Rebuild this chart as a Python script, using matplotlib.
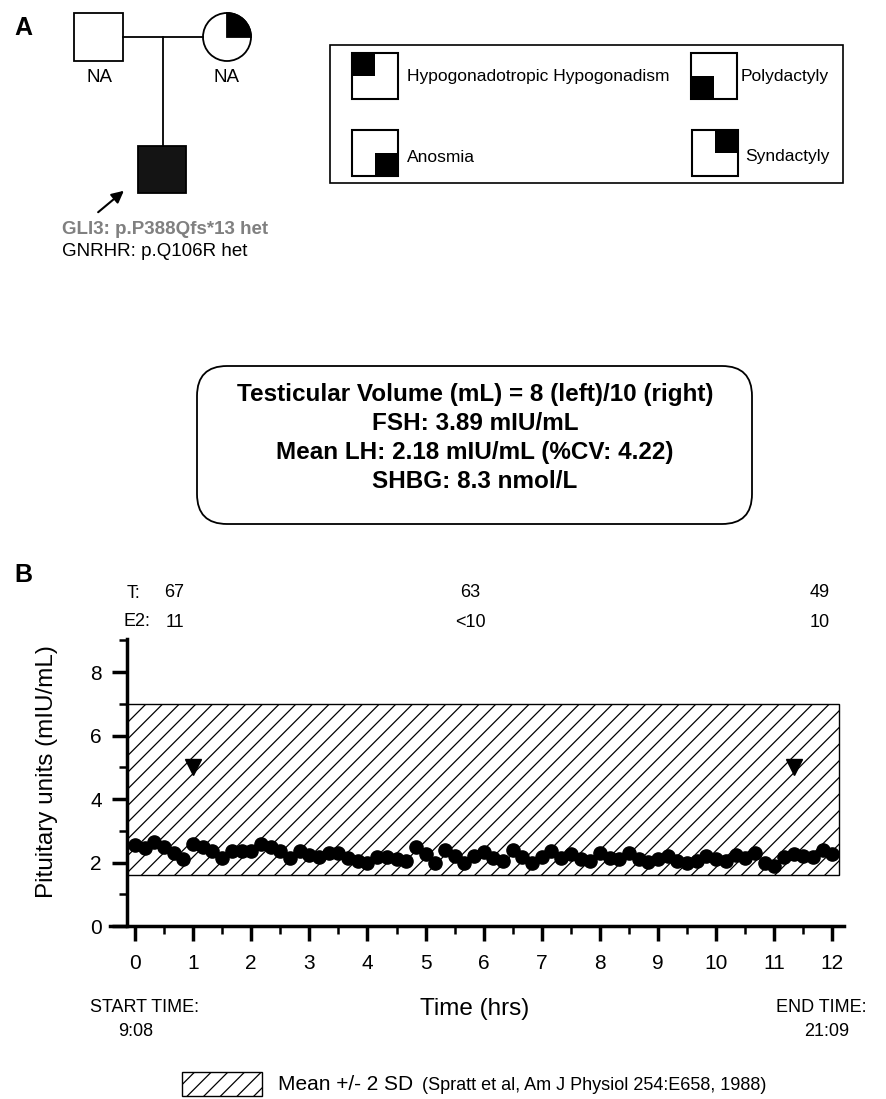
import numpy as np
import matplotlib
matplotlib.use("Agg")
import matplotlib.pyplot as plt
from matplotlib.patches import Rectangle, Circle, Wedge, FancyBboxPatch
from matplotlib.ticker import MultipleLocator

plt.rcParams['font.family'] = ['Liberation Sans', 'DejaVu Sans']
plt.rcParams['hatch.linewidth'] = 0.9

# LH sampled every 10 min over 12 hrs (pituitary units, mIU/mL)
sample_minutes = np.arange(0, 721, 10)
lh_values = [2.55, 2.45, 2.65, 2.50, 2.30, 2.10, 2.58, 2.50, 2.36, 2.14,
             2.36, 2.36, 2.36, 2.58, 2.50, 2.36, 2.14, 2.35, 2.24, 2.17,
             2.30, 2.30, 2.14, 2.05, 1.98, 2.17, 2.17, 2.10, 2.05, 2.50,
             2.27, 1.98, 2.40, 2.20, 1.98, 2.20, 2.33, 2.14, 2.05, 2.40,
             2.17, 1.98, 2.17, 2.36, 2.14, 2.27, 2.10, 2.05, 2.30, 2.14,
             2.10, 2.30, 2.10, 2.02, 2.10, 2.20, 2.05, 1.98, 2.05, 2.20,
             2.10, 2.05, 2.24, 2.14, 2.30, 1.98, 1.89, 2.17, 2.27, 2.20,
             2.17, 2.40, 2.27]

# detected pulses
pulse_hours = [1.0, 11.34]
pulse_level = [5.0, 5.0]

# normal range (mean +/- 2 SD)
band_low, band_high = 1.6, 7.0
band_end = 12.12

# hormone samples shown above the plot
hormone_hours = [0.68, 5.77, 11.79]
t_values = ['67', '63', '49']
e2_values = ['11', '<10', '10']

info_lines = ['Testicular Volume (mL) = 8 (left)/10 (right)',
              'FSH: 3.89 mIU/mL',
              'Mean LH: 2.18 mIU/mL (%CV: 4.22)',
              'SHBG: 8.3 nmol/L']

legend_items = [('Hypogonadotropic Hypogonadism', 'tl'), ('Polydactyly', 'bl'),
                ('Anosmia', 'br'), ('Syndactyly', 'tr')]

W, H = 886, 1099
fig = plt.figure(figsize=(W / 100, H / 100), dpi=100)

# pixel canvas for panel A and free text
cv = fig.add_axes([0, 0, 1, 1])
cv.set_xlim(0, W)
cv.set_ylim(H, 0)
cv.axis('off')

cv.text(23, 28, 'A', fontsize=18, fontweight='bold', ha='center', va='center')
cv.text(23, 575, 'B', fontsize=18, fontweight='bold', ha='center', va='center')

# pedigree
cv.add_patch(Rectangle((74, 13), 49, 48, fc='white', ec='black', lw=1.3))
cv.add_patch(Circle((227, 37), 24, fc='white', ec='black', lw=1.3))
cv.add_patch(Wedge((227, 37), 24, 270, 360, fc='black', ec='black', lw=1.3))
cv.plot([123, 203], [37, 37], color='black', lw=1.3)
cv.plot([163, 163], [37, 146], color='black', lw=1.3)
cv.add_patch(Rectangle((138, 146), 48, 47, fc='#141414', ec='black', lw=1.3))
cv.annotate('', xy=(126, 189), xytext=(96, 214),
            arrowprops=dict(arrowstyle='-|>', color='black', lw=1.5, mutation_scale=18))
cv.text(100, 78, 'NA', fontsize=13.5, ha='center', va='center')
cv.text(227, 78, 'NA', fontsize=13.5, ha='center', va='center')
cv.text(62, 229, 'GLI3: p.P388Qfs*13 het', fontsize=13.5, fontweight='bold',
        color='#808080', ha='left', va='center')
cv.text(62, 251, 'GNRHR: p.Q106R het', fontsize=13.5, ha='left', va='center')

# phenotype legend
cv.add_patch(Rectangle((330, 45), 513, 138, fc='none', ec='black', lw=1.2))
sym_pos = [(352, 53), (691, 53), (352, 130), (692, 130)]
text_pos = [(407, 77), (741, 77), (407, 157), (745, 157)]
for (label, corner), (sx, sy), (tx, ty) in zip(legend_items, sym_pos, text_pos):
    s = 46
    cv.add_patch(Rectangle((sx, sy), s, s, fc='white', ec='black', lw=1.5))
    qx = sx if corner[1] == 'l' else sx + s / 2
    qy = sy if corner[0] == 't' else sy + s / 2
    cv.add_patch(Rectangle((qx, qy), s / 2, s / 2, fc='black', ec='none'))
    cv.text(tx, ty, label, fontsize=12.5, ha='left', va='center')

# clinical info box
cv.add_patch(FancyBboxPatch((197, 366), 555, 158,
                            boxstyle='round,pad=0,rounding_size=30',
                            fc='white', ec='black', lw=1.3))
for i, line in enumerate(info_lines):
    cv.text(475, 394 + 29 * i, line, fontsize=17.5, fontweight='bold',
            ha='center', va='center')

# panel B
ax = fig.add_axes([110 / W, (H - 926) / H, 734 / W, 287.3 / H])
ax.patch.set_visible(False)
ax.set_xlim(-0.43, 12.2)
ax.set_ylim(0, 9.05)
spine_x = -0.14

ax.add_patch(Rectangle((spine_x, band_low), band_end - spine_x, band_high - band_low,
                       fc='white', ec='black', lw=1.0, hatch='//', zorder=1))
hours = sample_minutes / 60
ax.plot(hours, lh_values, 'o', color='black', ms=9.5, zorder=3, clip_on=False)
ax.plot(pulse_hours, pulse_level, 'v', color='black', ms=11, zorder=3)

for side in ['top', 'right']:
    ax.spines[side].set_visible(False)
ax.spines['left'].set_position(('data', spine_x))
for side in ['left', 'bottom']:
    ax.spines[side].set_linewidth(2.5)

ax.set_xticks(range(0, 13))
ax.set_yticks([0, 2, 4, 6, 8])
ax.xaxis.set_minor_locator(MultipleLocator(0.5))
ax.yaxis.set_minor_locator(MultipleLocator(1))
ax.tick_params(which='major', direction='out', length=11, width=2.5, labelsize=15)
ax.tick_params(which='minor', direction='out', length=6, width=1.8)
ax.tick_params(axis='x', which='major', pad=9)
ax.tick_params(axis='y', which='major', pad=7)

ax.set_ylabel('Pituitary units (mIU/mL)', fontsize=17.5, va='center')
ax.yaxis.set_label_coords(-0.086, 0.536)
ax.set_xlabel('Time (hrs)', fontsize=17.5, va='center')
ax.xaxis.set_label_coords(0.497, -0.29)

# T and E2 samples
cv.text(140, 593, 'T:', fontsize=13, ha='right', va='center')
cv.text(150, 622, 'E2:', fontsize=13, ha='right', va='center')
for hx, tv, ev in zip(hormone_hours, t_values, e2_values):
    ax.text(hx, 10.49, tv, fontsize=13, ha='center', va='center', clip_on=False)
    ax.text(hx, 9.57, ev, fontsize=13, ha='center', va='center', clip_on=False)

cv.text(145, 1008, 'START TIME:', fontsize=13, ha='center', va='center')
cv.text(136, 1032, '9:08', fontsize=13, ha='center', va='center')
cv.text(821, 1008, 'END TIME:', fontsize=13, ha='center', va='center')
cv.text(827, 1032, '21:09', fontsize=13, ha='center', va='center')

# range legend
cv.add_patch(Rectangle((182, 1072), 80, 24, fc='white', ec='black', lw=1.0, hatch='//'))
cv.text(278, 1084, 'Mean +/- 2 SD', fontsize=15, ha='left', va='center')
cv.text(422, 1085, '(Spratt et al, Am J Physiol 254:E658, 1988)', fontsize=13,
        ha='left', va='center')

fig.savefig('out.png', dpi=100)
